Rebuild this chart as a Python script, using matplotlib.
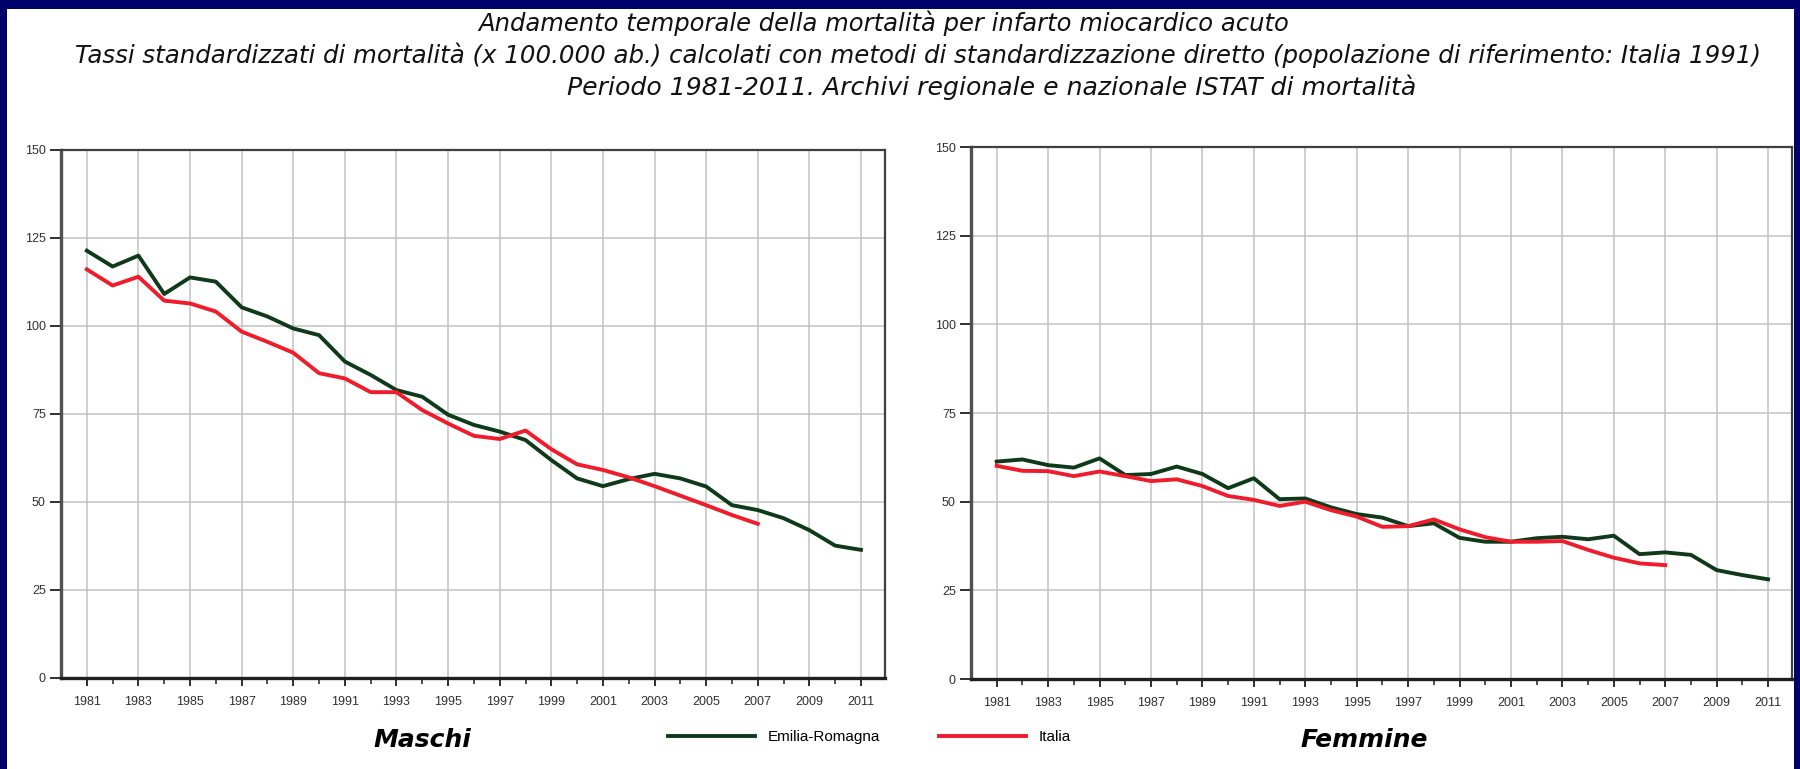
import matplotlib
matplotlib.use('Agg')
import matplotlib.pyplot as plt
from matplotlib.patches import Rectangle

# ---------------- data ----------------
years = list(range(1981, 2012))
years_italia = list(range(1981, 2008))

maschi_er = [121.4, 116.9, 120.0, 109.1, 113.8, 112.6, 105.3, 102.7, 99.3, 97.4,
             89.9, 86.1, 81.8, 79.9, 74.8, 71.9, 70.0, 67.6, 61.9, 56.7,
             54.5, 56.5, 58.0, 56.7, 54.4, 49.1, 47.7, 45.4, 42.0, 37.6, 36.4]
maschi_it = [116.1, 111.5, 114.0, 107.2, 106.4, 104.1, 98.4, 95.5, 92.4, 86.6,
             85.1, 81.2, 81.2, 76.1, 72.3, 68.8, 67.9, 70.3, 65.0, 60.7,
             59.1, 57.0, 54.5, 51.8, 49.1, 46.3, 43.8]
femmine_er = [61.3, 61.9, 60.3, 59.6, 62.2, 57.5, 57.8, 59.9, 57.8, 53.8,
              56.6, 50.7, 50.9, 48.4, 46.5, 45.5, 43.1, 43.9, 39.8, 38.7,
              38.7, 39.7, 40.1, 39.4, 40.4, 35.2, 35.7, 35.0, 30.7, 29.3, 28.1]
femmine_it = [60.1, 58.7, 58.6, 57.2, 58.5, 57.2, 55.8, 56.3, 54.4, 51.6,
              50.5, 48.8, 50.0, 47.6, 45.8, 42.9, 43.1, 45.0, 42.2, 40.0,
              38.7, 38.7, 38.9, 36.4, 34.2, 32.6, 32.1]

series_labels = ["Emilia-Romagna", "Italia"]
panel_labels = ["Maschi", "Femmine"]
y_ticks = [0, 25, 50, 75, 100, 125, 150]
x_major = list(range(1981, 2012, 2))
x_minor = list(range(1982, 2012, 2))
title_lines = [
    "Andamento temporale della mortalità per infarto miocardico acuto",
    "Tassi standardizzati di mortalità (x 100.000 ab.) calcolati con metodi di standardizzazione diretto (popolazione di riferimento: Italia 1991)",
    "Periodo 1981-2011. Archivi regionale e nazionale ISTAT di mortalità",
]

# ---------------- style ----------------
W, H = 1800, 769
GREEN = '#0f3a1a'
RED = '#f01c2c'
NAVY = '#00006a'
GRID = '#c2c2c2'
TICKC = '#303030'
LW = 2.8

fig = plt.figure(figsize=(W / 100, H / 100), dpi=100)
fig.patch.set_facecolor('white')

# navy frame around the slide
for (x0, y0, w, h) in [(0, H - 9, W, 9), (0, 0, 7, H), (W - 6, 0, 6, H)]:
    fig.patches.append(Rectangle((x0 / W, y0 / H), w / W, h / H,
                                 transform=fig.transFigure, facecolor=NAVY,
                                 edgecolor='none', zorder=-5))


def px_axes(x0, x1, ytop, ybot):
    return fig.add_axes([x0 / W, 1 - ybot / H, (x1 - x0) / W, (ybot - ytop) / H])


axL = px_axes(61, 885, 150, 678)
axR = px_axes(971, 1792, 147, 679)

handles = []
for ax, er, it in [(axL, maschi_er, maschi_it), (axR, femmine_er, femmine_it)]:
    h1, = ax.plot(years, er, color=GREEN, lw=LW, solid_joinstyle='round', zorder=3,
                  label=series_labels[0])
    h2, = ax.plot(years_italia, it, color=RED, lw=LW, solid_joinstyle='round', zorder=4,
                  label=series_labels[1])
    handles = [h1, h2]
    ax.set_xlim(1980, 2011.93)
    ax.set_ylim(0, 150)
    ax.set_yticks(y_ticks)
    ax.set_xticks(x_major)
    ax.set_xticks(x_minor, minor=True)
    ax.grid(True, which='major', color=GRID, lw=1.1, zorder=0)
    ax.tick_params(axis='y', which='major', direction='out', length=8, width=1.4,
                   pad=3, labelsize=9, colors=TICKC)
    ax.tick_params(axis='x', which='major', direction='out', length=6, width=1.4,
                   pad=7, labelsize=9, colors=TICKC)
    ax.tick_params(axis='x', which='minor', direction='out', length=4, width=1.2,
                   colors=TICKC)
    for lab in ax.get_xticklabels() + ax.get_yticklabels():
        lab.set_fontfamily('Liberation Sans')
    ax.spines['left'].set_linewidth(2.4)
    ax.spines['left'].set_color('#505050')
    ax.spines['bottom'].set_linewidth(2.4)
    ax.spines['bottom'].set_color('#202020')
    ax.spines['top'].set_linewidth(1.6)
    ax.spines['top'].set_color('#404040')
    ax.spines['right'].set_linewidth(1.6)
    ax.spines['right'].set_color('#404040')

# panel labels
fig.text(422 / W, 1 - 740 / H, panel_labels[0], ha='center', va='center',
         fontsize=18, fontweight='bold', fontstyle='italic', family='DejaVu Sans')
fig.text(1364 / W, 1 - 740 / H, panel_labels[1], ha='center', va='center',
         fontsize=18, fontweight='bold', fontstyle='italic', family='DejaVu Sans')

# legend
fig.legend(handles=handles, loc='center left', bbox_to_anchor=(668 / W, 1 - 737 / H),
           ncol=2, frameon=False, borderpad=0, borderaxespad=0,
           handlelength=5.7, handletextpad=0.85, columnspacing=3.8,
           prop={'family': 'Liberation Sans', 'size': 11})

# titles (fit to measured widths)
title_specs = [(884, 23, 815), (918, 55, 1695), (992, 87, 852)]
fig.canvas.draw()
renderer = fig.canvas.get_renderer()
for txt, (cx, cy, target_w) in zip(title_lines, title_specs):
    t = fig.text(cx / W, 1 - cy / H, txt, ha='center', va='center',
                 fontsize=14, fontstyle='italic', family='DejaVu Sans', color='#111111')
    bb = t.get_window_extent(renderer=renderer)
    t.set_fontsize(14 * target_w / bb.width)

fig.savefig('out.png', dpi=100, facecolor='white')
